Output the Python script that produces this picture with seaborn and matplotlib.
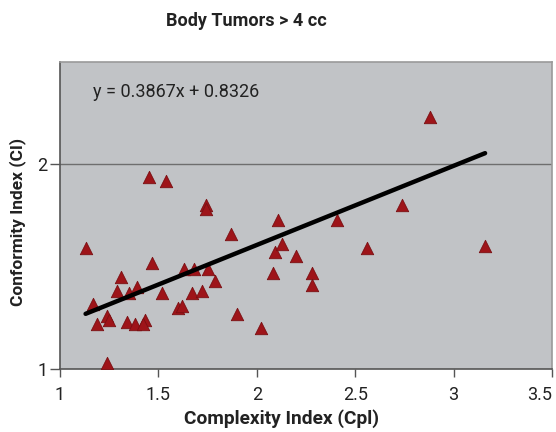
import numpy as np
import pandas as pd
import matplotlib
matplotlib.use("Agg")
import matplotlib.pyplot as plt
import seaborn as sns

# Complexity index (CpI) and conformity index (CI) per tumor
complexity = [1.13, 1.17, 1.19, 1.24, 1.25, 1.24, 1.29, 1.31, 1.35, 1.39,
              1.34, 1.38, 1.43, 1.42, 1.45, 1.47, 1.52, 1.54, 1.60, 1.62,
              1.63, 1.67, 1.68, 1.72, 1.74, 1.74, 1.75, 1.79, 1.87, 1.90,
              2.02, 2.08, 2.09, 2.11, 2.13, 2.20, 2.28, 2.28, 2.41, 2.56,
              2.74, 2.88, 3.16]
conformity = [1.59, 1.32, 1.22, 1.26, 1.24, 1.03, 1.38, 1.45, 1.37, 1.40,
              1.23, 1.22, 1.24, 1.22, 1.94, 1.52, 1.37, 1.92, 1.30, 1.31,
              1.49, 1.37, 1.49, 1.38, 1.80, 1.78, 1.49, 1.43, 1.66, 1.27,
              1.20, 1.47, 1.57, 1.73, 1.61, 1.55, 1.47, 1.41, 1.73, 1.59,
              1.80, 2.23, 1.60]

# Linear trend reported on the chart
slope = 0.3867
intercept = 0.8326

x_ticks = [1, 1.5, 2, 2.5, 3, 3.5]
x_tick_labels = ["1", "1.5", "2", "2.5", "3", "3.5"]
y_ticks = [1, 2]
y_tick_labels = ["1", "2"]

df = pd.DataFrame({"CpI": complexity, "CI": conformity})
x_fit = np.array([min(complexity), max(complexity)])
fit = pd.DataFrame({"CpI": x_fit, "CI": slope * x_fit + intercept})

sns.set_theme(style="white")
plt.rcParams["font.family"] = ["Roboto", "DejaVu Sans"]

W, H = 556, 432
fig = plt.figure(figsize=(W / 100, H / 100), dpi=100)
ax = fig.add_axes([60 / W, 1 - 369 / H, 492 / W, 307 / H])
ax.set_facecolor("#c1c3c6")

ax.axhline(2, color="#6e6e6e", lw=1.0, zorder=1)

sns.scatterplot(data=df, x="CpI", y="CI", ax=ax, marker="^", s=80,
                color="#9e1419", edgecolor="#7a0f12", linewidth=0.6,
                zorder=3, legend=False)
sns.lineplot(data=fit, x="CpI", y="CI", ax=ax, color="black", lw=3.2,
             zorder=4, legend=False)

ax.set_xlim(1, 3.5)
ax.set_ylim(1, 2.5)
ax.set_xticks(x_ticks)
ax.set_xticklabels(x_tick_labels, fontsize=13, color="#222222")
ax.set_yticks(y_ticks)
ax.set_yticklabels(y_tick_labels, fontsize=13, color="#222222")
ax.tick_params(axis="x", direction="out", length=6, width=1,
               color="#555555", bottom=True, pad=6)
ax.tick_params(axis="y", direction="out", length=7, width=1,
               color="#555555", left=True, pad=2)
# keep the last x label inside the figure
ax.get_xticklabels()[-1].set_horizontalalignment("right")
ax.get_xticklabels()[-1].set_x(3.5)
ax.set_xlabel("")
ax.set_ylabel("")

for side, col in [("left", "#555555"), ("bottom", "#555555"),
                  ("top", "#9a9a9a"), ("right", "#9a9a9a")]:
    ax.spines[side].set_visible(True)
    ax.spines[side].set_color(col)
    ax.spines[side].set_linewidth(1.2)

ax.text(33 / 492, (369 - 92) / 307, "y = 0.3867x + 0.8326",
        transform=ax.transAxes, fontsize=13, color="#222222",
        va="center", ha="left")

fig.text(246 / W, 1 - 21 / H, "Body Tumors > 4 cc", fontsize=13,
         fontweight="bold", ha="center", va="center", color="#222222")
fig.text(281 / W, 1 - 419 / H, "Complexity Index (Cpl)", fontsize=13.8,
         fontweight="bold", ha="center", va="center", color="#222222")
fig.text(18 / W, 1 - 222 / H, "Conformity Index (CI)", fontsize=12.5,
         fontweight="bold", ha="center", va="center", rotation=90,
         color="#222222")

fig.savefig("out.png", dpi=100, facecolor="white")
